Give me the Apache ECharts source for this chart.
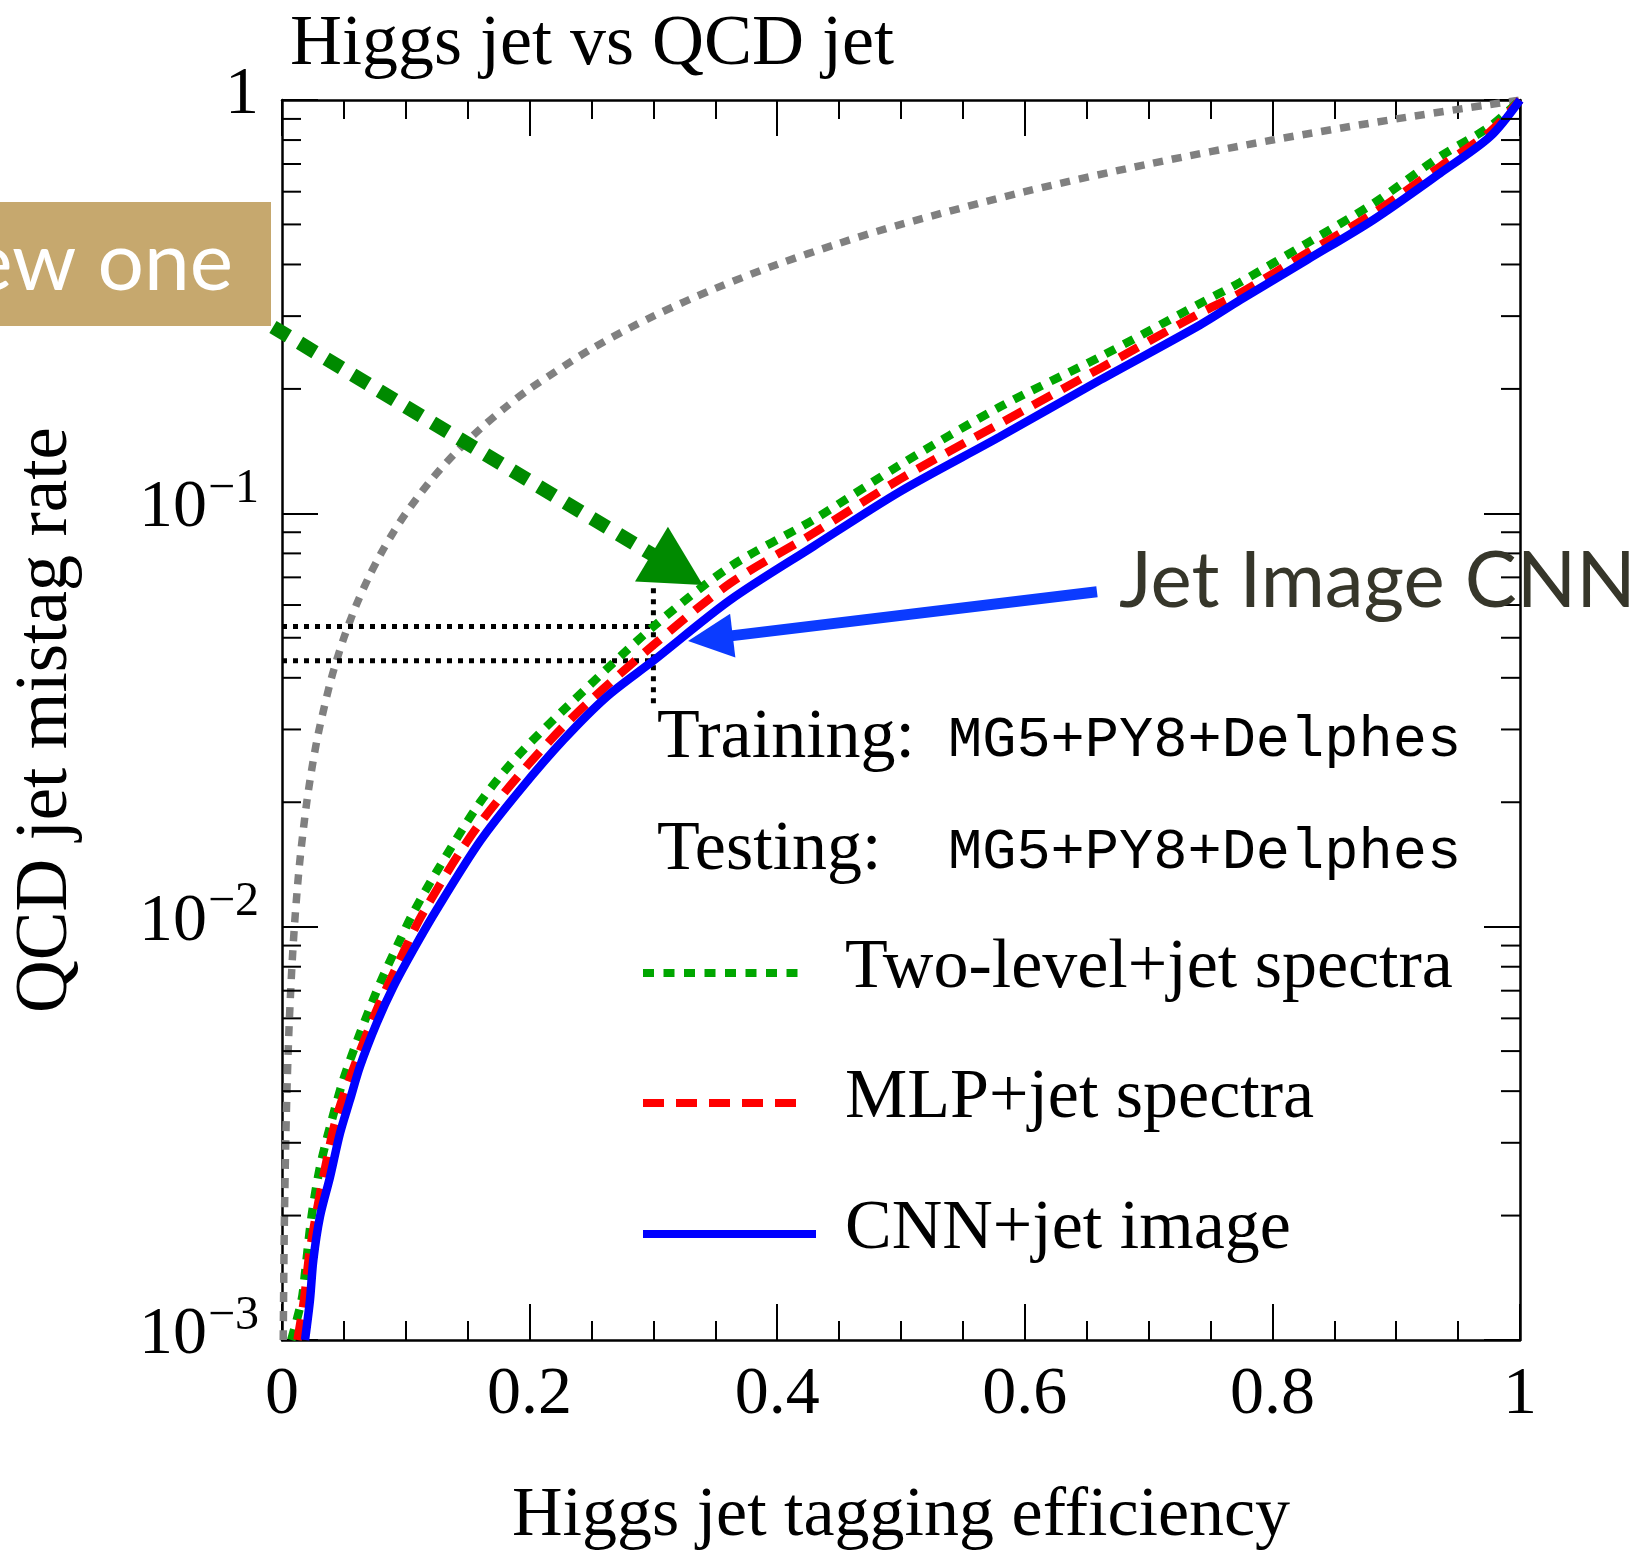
<!DOCTYPE html>
<html>
<head>
<meta charset="utf-8">
<title>Higgs jet vs QCD jet</title>
<script src="https://cdn.jsdelivr.net/npm/echarts@6/dist/echarts.min.js"></script>
<style>
  html, body { margin: 0; padding: 0; background: #ffffff; }
  #chart { width: 1640px; height: 1557px; }
</style>
</head>
<body>
<div id="chart"></div>
<script>
// ROC curves: Higgs jet tagging efficiency (x) vs QCD jet mistag rate (y, log scale)

const xTickValues = [0, 0.2, 0.4, 0.6, 0.8, 1];
const xTickLabels = ['0', '0.2', '0.4', '0.6', '0.8', '1'];
const yTickExponents = [-3, -2, -1, 0];
const yMinorTicks = [
  0.002, 0.003, 0.004, 0.005, 0.006, 0.007, 0.008, 0.009,
  0.02, 0.03, 0.04, 0.05, 0.06, 0.07, 0.08, 0.09,
  0.2, 0.3, 0.4, 0.5, 0.6, 0.7, 0.8, 0.9
];

const seriesNames = ['Two-level+jet spectra', 'MLP+jet spectra', 'CNN+jet image'];

// Two-level + jet spectra (green dotted)
const twoLevelCurve = [
  [0.0075, 0.001], [0.0159, 0.00125], [0.0186, 0.00145], [0.024, 0.0020],
  [0.0307, 0.00262], [0.0388, 0.00328], [0.0495, 0.00426], [0.063, 0.00552],
  [0.0792, 0.0073], [0.0953, 0.00929], [0.106, 0.0108], [0.125, 0.0136],
  [0.16, 0.0200], [0.19, 0.0258], [0.2273, 0.0334], [0.3, 0.0532], [0.362, 0.0743],
  [0.429, 0.0964], [0.4992, 0.1310], [0.58, 0.181], [0.661, 0.2393],
  [0.7415, 0.322], [0.7738, 0.362], [0.8277, 0.45], [0.8815, 0.562],
  [0.9354, 0.73], [0.9758, 0.863], [1.0, 1.0]
];

// MLP + jet spectra (red dashed)
const mlpCurve = [
  [0.0125, 0.001], [0.0178, 0.00125], [0.0226, 0.00165], [0.0334, 0.00248],
  [0.0442, 0.00347], [0.0603, 0.00476], [0.0765, 0.00629], [0.0926, 0.0080],
  [0.114, 0.0108], [0.16, 0.0178], [0.2273, 0.0305], [0.3, 0.048],
  [0.362, 0.0677], [0.429, 0.0894], [0.4992, 0.121], [0.58, 0.165],
  [0.661, 0.2245], [0.7415, 0.305], [0.7738, 0.341], [0.8277, 0.426],
  [0.8815, 0.532], [0.9354, 0.690], [0.9758, 0.838], [1.0, 1.0]
];

// CNN + jet image (blue solid)
const cnnCurve = [
  [0.0186, 0.001], [0.0226, 0.00125], [0.0253, 0.00156], [0.0307, 0.00199],
  [0.0388, 0.00248], [0.0468, 0.00316], [0.0549, 0.00381], [0.063, 0.00459],
  [0.0765, 0.00584], [0.0899, 0.00715], [0.106, 0.00878], [0.125, 0.011],
  [0.16, 0.0161], [0.1922, 0.0214], [0.2273, 0.0283], [0.2623, 0.036],
  [0.3, 0.044], [0.362, 0.0617], [0.429, 0.0831], [0.4992, 0.1129],
  [0.58, 0.1533], [0.661, 0.2103], [0.7415, 0.2856], [0.7738, 0.328],
  [0.8277, 0.410], [0.8815, 0.513], [0.9354, 0.665], [0.9758, 0.815],
  [1.0, 1.0]
];

// Random-guess reference (grey dotted): mistag rate equal to efficiency
const randomCurve = [
  [0.001, 0.001], [0.0015, 0.0015], [0.002, 0.002], [0.003, 0.003],
  [0.004, 0.004], [0.005, 0.005], [0.006, 0.006], [0.008, 0.008],
  [0.01, 0.01], [0.0125, 0.0125], [0.015, 0.015], [0.02, 0.02],
  [0.025, 0.025], [0.03, 0.03], [0.04, 0.04], [0.05, 0.05],
  [0.06, 0.06], [0.07, 0.07], [0.08, 0.08], [0.09, 0.09], [0.1, 0.1],
  [0.12, 0.12], [0.14, 0.14], [0.16, 0.16], [0.18, 0.18], [0.2, 0.2],
  [0.25, 0.25], [0.3, 0.3], [0.35, 0.35], [0.4, 0.4], [0.45, 0.45],
  [0.5, 0.5], [0.6, 0.6], [0.7, 0.7], [0.8, 0.8], [0.9, 0.9], [1.0, 1.0]
];

// Working point guides at 30% tagging efficiency
const guideUpper = [[0, 0.0532], [0.3, 0.0532]];
const guideLower = [[0, 0.0440], [0.3, 0.0440]];
const guideVertical = [[0.3, 0.0347], [0.3, 0.0659]];

// Annotation arrows in data space: [tail, tip]
const greenArrow = [[-0.0073, 0.2825], [0.340, 0.0671]];
const blueArrow = [[0.6583, 0.0646], [0.328, 0.0491]];

const SERIF = '"Liberation Serif", "Times New Roman", serif';
const SANS = 'Lato, "Open Sans", "Noto Sans", sans-serif';
const MONO = '"Liberation Mono", "DejaVu Sans Mono", monospace';

// line styles shared by the curves and their legend keys
const curveStyles = [
  { color: '#00a600', width: 8.5, type: [11, 9.5] },
  { color: '#ff0000', width: 8.5, type: [21, 12] },
  { color: '#0000ff', width: 8.5, type: 'solid' }
];

const chart = echarts.init(document.getElementById('chart'), null, { renderer: 'canvas' });

const axisLineStyle = { color: '#000', width: 2.5 };
const tickStyle = { color: '#000', width: 2 };

function xAxisDef(position, showLabel) {
  return {
    type: 'value', position: position, min: 0, max: 1, interval: 0.2,
    axisLine: { show: true, onZero: false, lineStyle: axisLineStyle },
    axisTick: { show: true, inside: true, length: 36, lineStyle: tickStyle },
    minorTick: { show: true, splitNumber: 4, length: 19, lineStyle: tickStyle },
    splitLine: { show: false },
    axisLabel: {
      show: showLabel, margin: 21, fontFamily: SERIF, fontSize: 68, color: '#000',
      formatter: function (v) {
        const i = xTickValues.findIndex(t => Math.abs(t - v) < 1e-6);
        return i >= 0 ? xTickLabels[i] : '';
      }
    }
  };
}

function yAxisDef(position, showLabel) {
  return {
    type: 'log', logBase: 10, position: position, min: 0.001, max: 1,
    axisLine: { show: true, onZero: false, lineStyle: axisLineStyle },
    axisTick: { show: true, inside: true, length: 36, lineStyle: tickStyle },
    splitLine: { show: false },
    axisLabel: {
      show: showLabel, margin: 23, color: '#000',
      formatter: function (v) {
        const e = Math.round(Math.log10(v));
        if (yTickExponents.indexOf(e) < 0) return '';
        return e === 0 ? '{b|1}' : '{b|10}{s|\u2212' + (-e) + '}';
      },
      rich: {
        b: { fontFamily: SERIF, fontSize: 68, lineHeight: 68, verticalAlign: 'middle', padding: [0, 0, 10, 0], color: '#000' },
        s: { fontFamily: SERIF, fontSize: 48, lineHeight: 48, verticalAlign: 'middle', padding: [0, 0, 48, 1], color: '#000' }
      }
    }
  };
}

const guideStyle = { color: '#000', width: 5, type: [5, 6] };

chart.setOption({
  animation: false,
  backgroundColor: '#ffffff',
  title: {
    text: 'Higgs jet vs QCD jet', left: 290, top: 9, padding: 0,
    textStyle: { fontFamily: SERIF, fontSize: 72, fontWeight: 'normal', color: '#000' }
  },
  grid: { left: 282, right: 120, top: 100, bottom: 217, containLabel: false },
  xAxis: [
    Object.assign(xAxisDef('bottom', true), {
      name: 'Higgs jet tagging efficiency', nameLocation: 'middle', nameGap: 142,
      nameTextStyle: { fontFamily: SERIF, fontSize: 70, color: '#000' }
    }),
    xAxisDef('top', false)
  ],
  yAxis: [
    Object.assign(yAxisDef('left', true), {
      name: 'QCD jet mistag rate', nameLocation: 'middle', nameGap: 199,
      nameTextStyle: { fontFamily: SERIF, fontSize: 73, color: '#000' }
    }),
    yAxisDef('right', false)
  ],
  series: [
    {
      name: 'random', type: 'line', data: randomCurve, symbol: 'none', smooth: 0.3,
      lineStyle: { color: '#808080', width: 7.5, type: [10, 9] }, silent: true, z: 2
    },
    {
      name: 'guide-upper', type: 'line', data: guideUpper, symbol: 'none',
      lineStyle: guideStyle, silent: true, z: 2
    },
    {
      name: 'guide-lower', type: 'line', data: guideLower, symbol: 'none',
      lineStyle: guideStyle, silent: true, z: 2
    },
    {
      name: 'guide-vertical', type: 'line', data: guideVertical, symbol: 'none',
      lineStyle: guideStyle, silent: true, z: 2
    },
    {
      name: seriesNames[0], type: 'line', data: twoLevelCurve, symbol: 'none', smooth: 0.3,
      lineStyle: curveStyles[0], z: 3
    },
    {
      name: seriesNames[1], type: 'line', data: mlpCurve, symbol: 'none', smooth: 0.3,
      lineStyle: curveStyles[1], z: 4
    },
    {
      name: seriesNames[2], type: 'line', data: cnnCurve, symbol: 'none', smooth: 0.3,
      lineStyle: curveStyles[2], z: 5
    },
    {
      // minor ticks of the logarithmic axis, on both the left and right frame
      name: 'y-minor-ticks', type: 'custom', silent: true, z: 6,
      data: yMinorTicks.map(v => [0, v]),
      renderItem: function (params, api) {
        const v = api.value(1);
        const l = api.coord([0, v]);
        const r = api.coord([1, v]);
        return {
          type: 'group',
          children: [
            { type: 'line', shape: { x1: l[0], y1: l[1], x2: l[0] + 19, y2: l[1] }, style: { stroke: '#000', lineWidth: 2 } },
            { type: 'line', shape: { x1: r[0] - 19, y1: r[1], x2: r[0], y2: r[1] }, style: { stroke: '#000', lineWidth: 2 } }
          ]
        };
      }
    }
  ]
});

// Arrow built from two data-space points: a shaft ending at the head base plus a triangular head
function arrowElements(points, color, width, dash, headLen, headHalf) {
  const p0 = chart.convertToPixel({ gridIndex: 0 }, points[0]);
  const p1 = chart.convertToPixel({ gridIndex: 0 }, points[1]);
  const dx = p1[0] - p0[0], dy = p1[1] - p0[1];
  const len = Math.sqrt(dx * dx + dy * dy);
  const ux = dx / len, uy = dy / len;
  const bx = p1[0] - ux * headLen, by = p1[1] - uy * headLen;
  const px = -uy, py = ux;
  return [
    {
      type: 'line', z: 50,
      shape: { x1: p0[0], y1: p0[1], x2: bx + ux * 2, y2: by + uy * 2 },
      style: { stroke: color, lineWidth: width, lineDash: dash, lineCap: 'butt' }
    },
    {
      type: 'polygon', z: 51,
      shape: { points: [[p1[0], p1[1]], [bx + px * headHalf, by + py * headHalf], [bx - px * headHalf, by - py * headHalf]] },
      style: { fill: color }
    }
  ];
}

function label(text, x, y, font, fill, align) {
  return {
    type: 'text', z: 60, x: x, y: y,
    style: {
      text: text, font: font, fill: fill,
      align: align || 'left', verticalAlign: 'middle',
      textAlign: align || 'left', textVerticalAlign: 'middle'
    }
  };
}

// Legend keys: a stroke in each curve's style followed by its name
const legendKeyX = 643, legendKeyLengths = [162, 162, 173], legendRowY = [973, 1103, 1234], legendTextX = 845;
function legendElements() {
  const out = [];
  seriesNames.forEach(function (name, i) {
    const s = curveStyles[i];
    out.push({
      type: 'line', z: 55,
      shape: { x1: legendKeyX, y1: legendRowY[i], x2: legendKeyX + legendKeyLengths[i], y2: legendRowY[i] },
      style: { stroke: s.color, lineWidth: 8, lineDash: Array.isArray(s.type) ? s.type : null, lineCap: 'butt' }
    });
    out.push(label(name, legendTextX, legendRowY[i] - 4, '70px ' + SERIF, '#000', 'left'));
  });
  return out;
}

const graphics = []
  .concat([
    { type: 'rect', z: 40, shape: { x: -10, y: 202, width: 281, height: 124 }, style: { fill: '#c6a86e' } },
    label('ew one', 233, 264, '82px ' + SANS, '#ffffff', 'right')
  ])
  .concat(arrowElements(greenArrow, '#008a00', 14, [18, 13], 60, 32))
  .concat(arrowElements(blueArrow, '#0b3bff', 11, null, 45, 22))
  .concat([
    label('Jet Image CNN', 1119, 582, '78px ' + SANS, '#36362a', 'left'),
    label('Training:', 657, 739, '70px ' + SERIF, '#000', 'left'),
    label('MG5+PY8+Delphes', 948, 741, '57px ' + MONO, '#000', 'left'),
    label('Testing:', 657, 851, '70px ' + SERIF, '#000', 'left'),
    label('MG5+PY8+Delphes', 948, 853, '57px ' + MONO, '#000', 'left')
  ])
  .concat(legendElements());

chart.setOption({ graphic: graphics });
</script>
</body>
</html>
